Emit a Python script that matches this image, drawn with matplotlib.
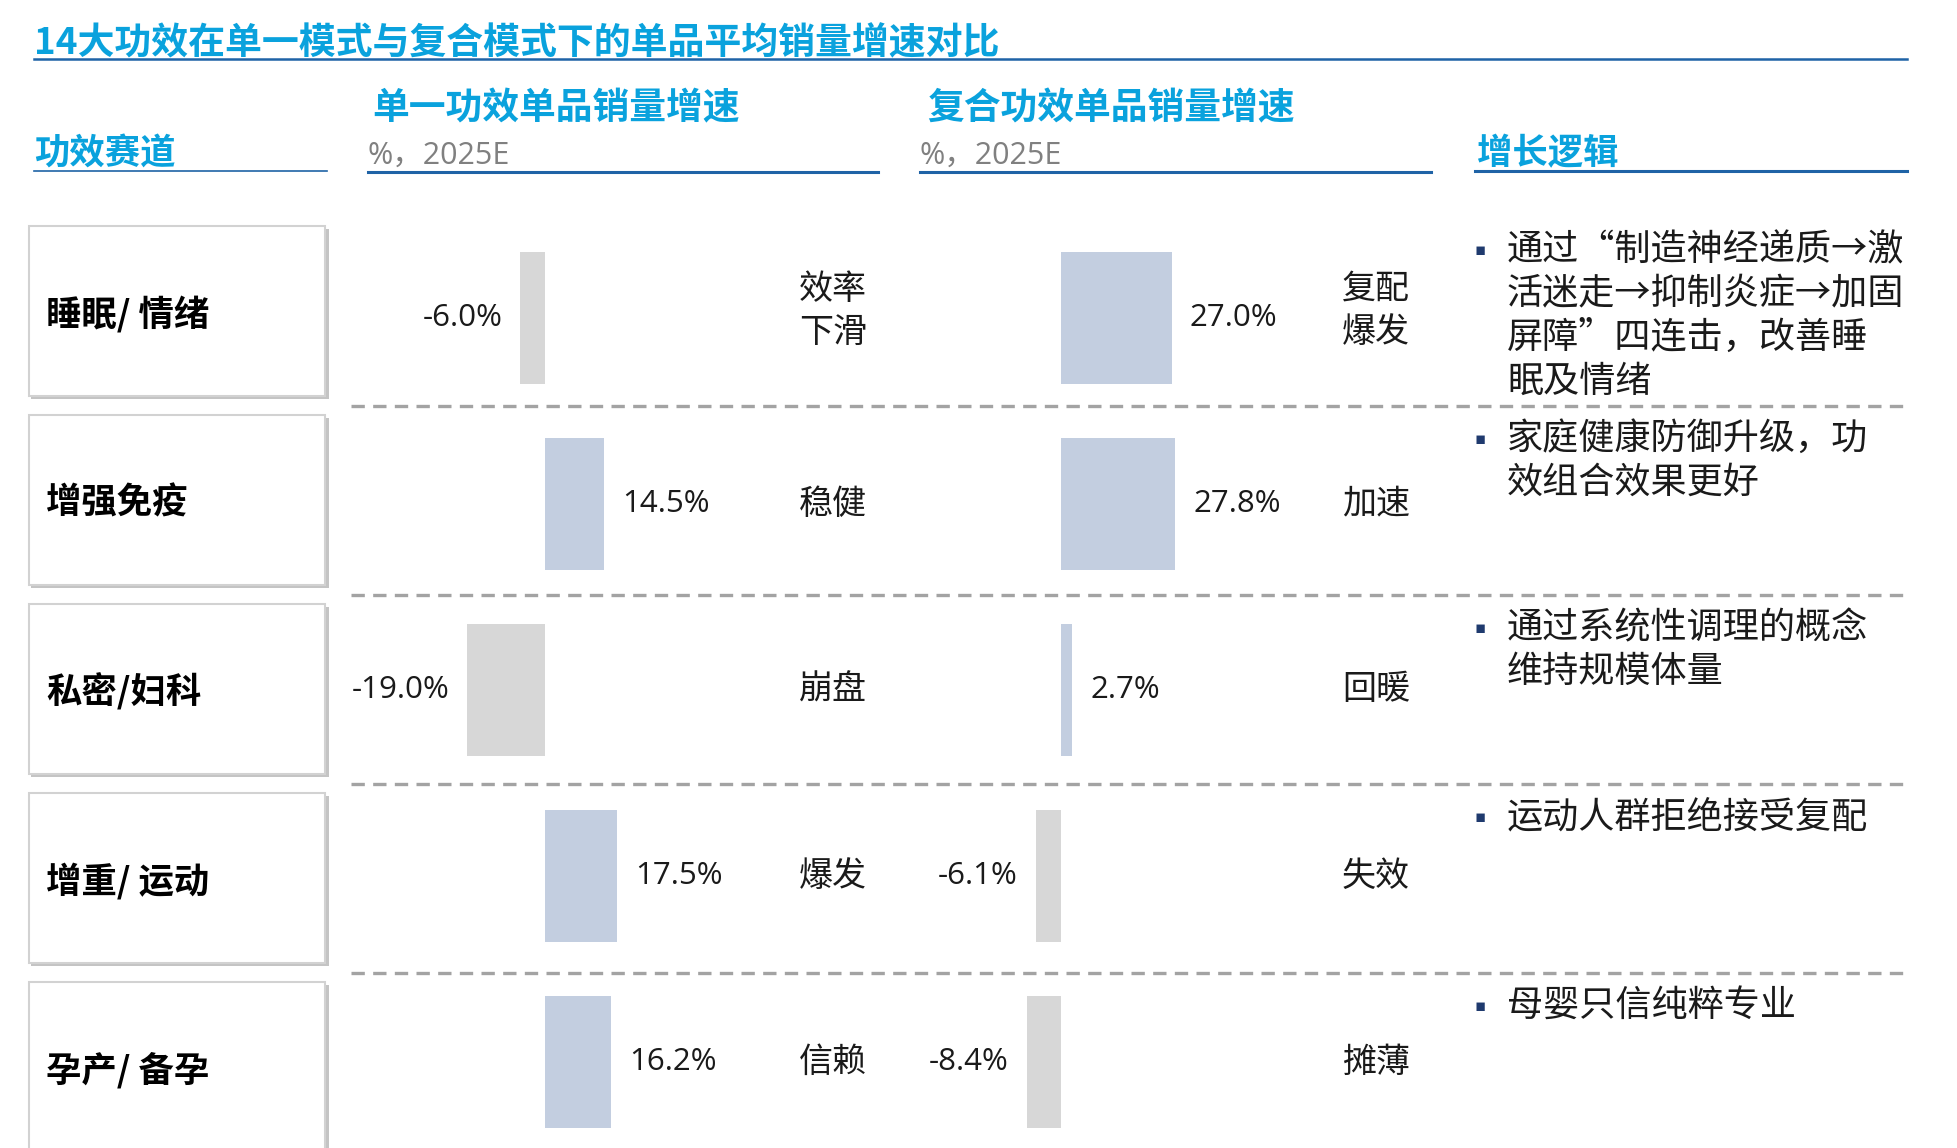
import matplotlib
matplotlib.use("Agg")

import matplotlib.pyplot as plt
from matplotlib.patches import Rectangle

# ---- data ----
tracks = ["睡眠/ 情绪", "增强免疫", "私密/妇科", "增重/ 运动", "孕产/ 备孕"]
single_growth = [-6.0, 14.5, -19.0, 17.5, 16.2]
single_status = ["效率\n下滑", "稳健", "崩盘", "爆发", "信赖"]
combo_growth = [27.0, 27.8, 2.7, -6.1, -8.4]
combo_status = ["复配\n爆发", "加速", "回暖", "失效", "摊薄"]
logic_lines = [
    ["通过“制造神经递质→激", "活迷走→抑制炎症→加固", "屏障”四连击，改善睡", "眠及情绪"],
    ["家庭健康防御升级，功", "效组合效果更好"],
    ["通过系统性调理的概念", "维持规模体量"],
    ["运动人群拒绝接受复配"],
    ["母婴只信纯粹专业"],
]
title = "14大功效在单一模式与复合模式下的单品平均销量增速对比"
col_track = "功效赛道"
col_single = "单一功效单品销量增速"
col_combo = "复合功效单品销量增速"
col_unit = "%，2025E"
col_logic = "增长逻辑"

# ---- style ----
W, H = 1958, 1148
CJK = ["Noto Sans CJK SC", "DejaVu Sans"]
NUM = ["Open Sans", "Noto Sans CJK SC", "DejaVu Sans"]
CYAN = "#0AA2DD"
NAVY_LINE = "#1F63A6"
BAR_POS = "#C3CEE0"
BAR_NEG = "#D7D7D7"
DASH = "#A3A3A3"

PX_PER_PCT = 4.1
BAR_C0, BAR_PITCH = 318, 186
ROW_TOP0, ROW_PITCH, BOX_H = 226, 189, 170

fig = plt.figure(figsize=(W / 100, H / 100), dpi=100)


def px_axes(x0, y0, x1, y1):
    return fig.add_axes([x0 / W, 1 - y1 / H, (x1 - x0) / W, (y1 - y0) / H])


ax0 = fig.add_axes([0, 0, 1, 1])
ax0.set_xlim(0, W)
ax0.set_ylim(H, 0)
ax0.axis("off")

# title and headers
ax0.text(34, 44, title, family=CJK, fontsize=26.6, fontweight="bold", color=CYAN, va="center")
ax0.plot([34, 1907], [59, 59], color=NAVY_LINE, lw=1.8)

ax0.text(34, 154, col_track, family=CJK, fontsize=25.5, fontweight="bold", color=CYAN, va="center")
ax0.plot([34, 327], [171, 171], color=NAVY_LINE, lw=1.2)

ax0.text(372, 109, col_single, family=CJK, fontsize=26.5, fontweight="bold", color=CYAN, va="center")
ax0.text(368, 156, col_unit, family=NUM, fontsize=22, color="#808080", va="center")
ax0.plot([368, 878], [172, 172], color=NAVY_LINE, lw=2.2)

ax0.text(927, 109, col_combo, family=CJK, fontsize=26.5, fontweight="bold", color=CYAN, va="center")
ax0.text(920, 156, col_unit, family=NUM, fontsize=22, color="#808080", va="center")
ax0.plot([920, 1431], [172, 172], color=NAVY_LINE, lw=2.2)

ax0.text(1477, 154, col_logic, family=CJK, fontsize=25.5, fontweight="bold", color=CYAN, va="center")
ax0.plot([1475, 1907], [171, 171], color=NAVY_LINE, lw=2.2)

# row boxes, separators, logic text
for i, name in enumerate(tracks):
    top = ROW_TOP0 + ROW_PITCH * i
    ax0.add_patch(Rectangle((31, top + 3), 298, BOX_H, facecolor="#C4C4C4", edgecolor="none"))
    ax0.add_patch(Rectangle((29, top), 296, BOX_H, facecolor="white", edgecolor="#D2D2D2", lw=1.5))
    ax0.text(46, top + BOX_H / 2 + 3, name, family=CJK, fontsize=25.5, fontweight="bold",
             color="black", va="center")
    if i < len(tracks) - 1:
        y = top + 180
        ax0.plot([351, 1907], [y, y], color=DASH, lw=2.4, linestyle=(0, (4, 2.5)))
    for j, line in enumerate(logic_lines[i]):
        y = 250 + ROW_PITCH * i + 44 * j
        if j == 0:
            ax0.text(1480, y, "▪", family=["DejaVu Sans"], fontsize=12, color="#1F3A6E",
                     va="center", ha="center")
        ax0.text(1507, y, line, family=CJK, fontsize=26, color="#1a1a1a", va="center")


def bar_column(x0, x1, zero_px, values, statuses, status_px):
    ax = px_axes(x0, BAR_C0 - BAR_PITCH / 2, x1, H)
    ax.set_facecolor("none")
    ax.set_xlim((x0 - zero_px) / PX_PER_PCT, (x1 - zero_px) / PX_PER_PCT)
    ax.set_ylim((H - BAR_C0) / BAR_PITCH, -0.5)
    ax.axis("off")
    ys = list(range(len(values)))
    colors = [BAR_POS if v >= 0 else BAR_NEG for v in values]
    ax.barh(ys, values, height=0.705, color=colors)
    status_x = (status_px - zero_px) / PX_PER_PCT
    for y, v, s in zip(ys, values, statuses):
        off = 13 if v >= 0 else -13
        ax.annotate(f"{v:.1f}%", xy=(v, y), xytext=(off, 0), textcoords="offset points",
                    ha="left" if v >= 0 else "right", va="center",
                    family=NUM, fontsize=22.5, color="#1a1a1a")
        ax.text(status_x, y - (0.04 if "\n" in s else 0), s, family=CJK, fontsize=24.5,
                color="#1a1a1a", ha="center", va="center", linespacing=1.3)
    return ax


bar_column(351, 878, 545, single_growth, single_status, 833)
bar_column(920, 1431, 1061, combo_growth, combo_status, 1376)

fig.savefig("out.png", dpi=100, facecolor="white")
